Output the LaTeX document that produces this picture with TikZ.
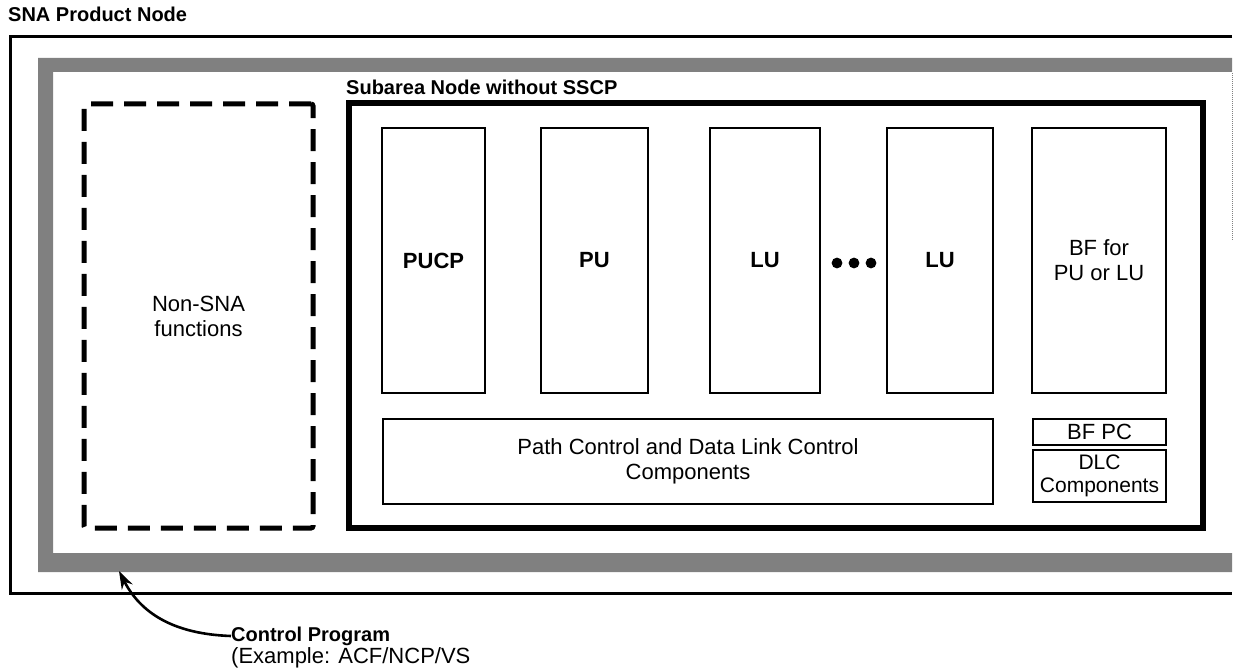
\documentclass[tikz,border=0pt]{standalone}
\usepackage{fontspec}
\setmainfont{Liberation Sans}
\usepackage{tikz}
\usetikzlibrary{arrows.meta}

\tikzset{
  txt/.style={font=\fontsize{22}{25}\selectfont, align=center},
  btxt/.style={font=\fontsize{20}{24}\selectfont\bfseries},
  unitbox/.style={draw, line width=2.8pt, inner sep=0pt, txt},
  subbox/.style={draw, line width=6.5pt, inner sep=0pt},
  nonsna/.style={draw, line width=5pt, dash pattern=on 22pt off 11pt, rounded corners=2pt, inner sep=0pt, txt}
}

\begin{document}
\begin{tikzpicture}[x=1pt,y=-1pt]
  \useasboundingbox (0,0) rectangle (1238,668);

  % product node frame (open at the right)
  \node[btxt, anchor=base west, inner sep=0pt] (title) at (8,22) {SNA Product Node};
  \draw[line width=3pt] (1232,37) -- (10,37) -- (10,593) -- (1232,593);
  \fill[black!50] (1232,58) -- (38,58) -- (38,572) -- (1232,572) -- (1232,553)
        -- (53,553) -- (53,72) -- (1232,72) -- cycle;
  \draw[gray, densely dotted, line width=1pt] (1232,73) -- (1232,240);

  % non-SNA part
  \node[nonsna, minimum width=229pt, minimum height=424pt] (nonsna) at (198.5,316)
        {Non-SNA\\functions};

  % subarea node
  \node[btxt, anchor=base west, inner sep=0pt] (sublabel) at (346,95) {Subarea Node without SSCP};
  \node[subbox, minimum width=854pt, minimum height=425pt] (subarea) at (776,315.5) {};

  \node[unitbox, minimum width=103pt, minimum height=265pt] (pucp) at (433.5,260.5) {\bfseries PUCP};
  \node[unitbox, minimum width=107pt, minimum height=265pt] (pu) at (594.5,260.5) {\bfseries PU};
  \node[unitbox, minimum width=110pt, minimum height=265pt] (lua) at (765,260.5) {\bfseries LU};
  \node[unitbox, minimum width=106pt, minimum height=265pt] (lub) at (940,260.5) {\bfseries LU};
  \node[unitbox, minimum width=134pt, minimum height=265pt] (bf) at (1099,260.5) {BF for\\PU or LU};
  \foreach \dx in {837,854,871}
    \fill (\dx,263) circle (5.4pt);

  \node[unitbox, minimum width=610pt, minimum height=85pt] (pathctl) at (688,461.5)
        {Path Control and Data Link Control\\Components};
  \node[unitbox, minimum width=133pt, minimum height=26pt] (bfpc) at (1099.5,432) {BF PC};
  \node[unitbox, minimum width=133pt, minimum height=52pt,
        font=\fontsize{21}{23}\selectfont] (dlc) at (1099.5,476) {DLC\\Components};

  % control program callout
  \node[btxt, anchor=west, inner sep=0pt] (ctrl) at (231,636) {Control Program};
  \node[txt, anchor=north west, inner sep=0pt] (ctrlex) at (231,647) {(Example: ACF/NCP/VS};
  \coordinate (cptip) at (119,571);
  \draw[line width=2.6pt, -{Stealth[length=18pt,width=12pt]}]
        (ctrl.west) .. controls (172,634) and (140,612) .. (cptip);
\end{tikzpicture}
\end{document}
